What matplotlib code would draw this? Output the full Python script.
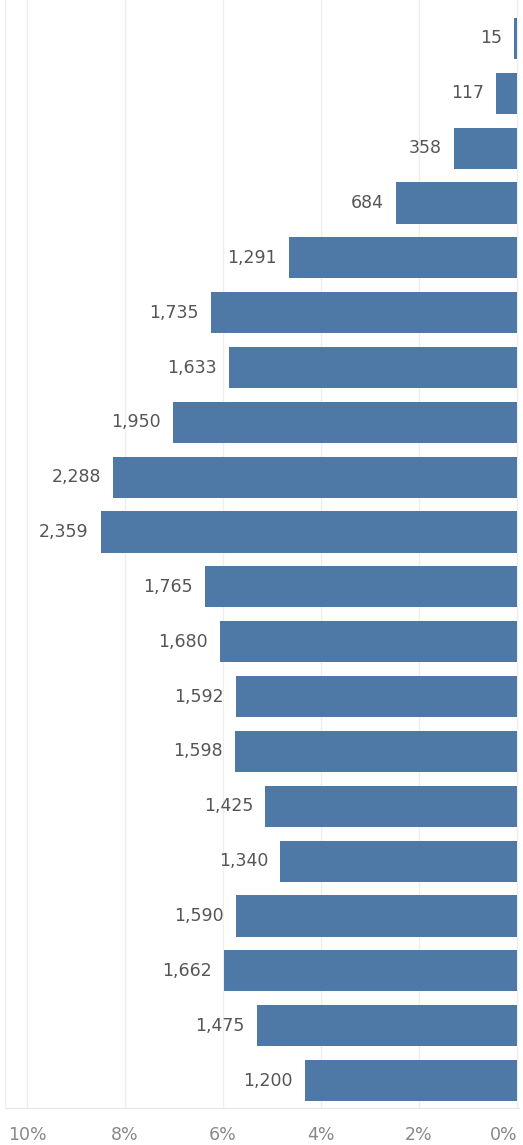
import matplotlib
matplotlib.use('Agg')
import matplotlib.pyplot as plt

counts = [15, 117, 358, 684, 1291, 1735, 1633, 1950, 2288, 2359,
          1765, 1680, 1592, 1598, 1425, 1340, 1590, 1662, 1475, 1200]
tick_vals = [10, 8, 6, 4, 2, 0]
tick_labels = ['10%', '8%', '6%', '4%', '2%', '0%']

total = sum(counts)
shares = [c / total * 100 for c in counts]
ypos = list(range(len(counts)))

fig = plt.figure(figsize=(5.23, 11.45), dpi=100)
ax = fig.add_axes([5 / 523, 1 - 1108 / 1145, 514 / 523, 1108 / 1145])

ax.barh(ypos, shares, height=0.75, color='#4e79a7', zorder=2)
for y, s, c in zip(ypos, shares, counts):
    ax.text(s + 0.25, y, f'{c:,}', ha='right', va='center',
            fontsize=12.5, color='#555555')

ax.set_xlim(10.45, -0.04)
ax.set_ylim(len(counts) - 0.5, -0.7)
ax.set_xticks(tick_vals)
ax.set_xticklabels(tick_labels, fontsize=12.5, color='#888888')
ax.get_xticklabels()[-1].set_horizontalalignment('right')
ax.tick_params(axis='x', length=0, pad=13)
ax.set_yticks([])
ax.grid(axis='x', color='#eeeeee', linewidth=1, zorder=0)
for side in ['top', 'right']:
    ax.spines[side].set_visible(False)
ax.spines['left'].set_color('#eeeeee')
ax.spines['bottom'].set_color('#e6e6e6')

fig.savefig('out.png', dpi=100)
